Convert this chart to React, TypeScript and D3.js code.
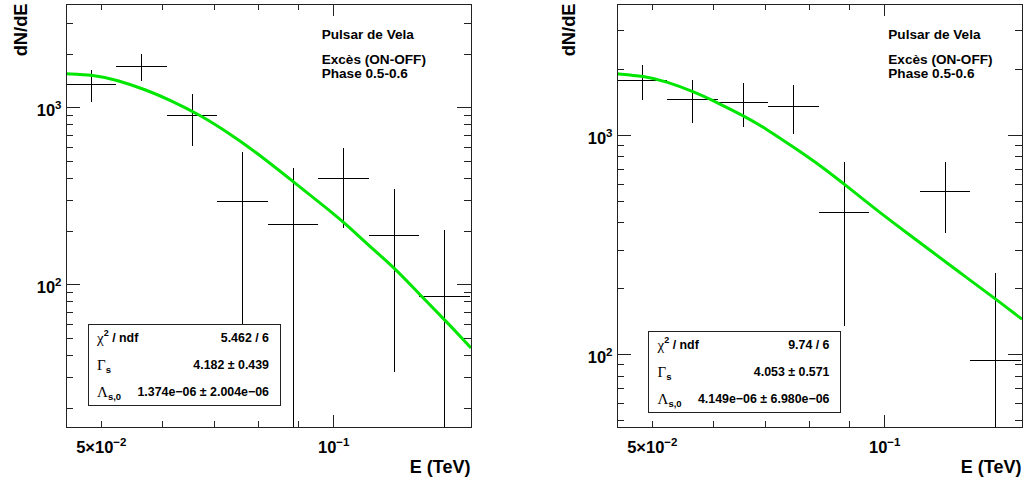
import React from 'react';
import * as d3 from 'd3';

// ---------- data ----------
const binEdges = [0.045, 0.0523, 0.0608, 0.0707, 0.0822, 0.0955, 0.111, 0.1291, 0.15];

const leftValues: (number | null)[] = [1350, 1720, 900, 297, 220, 400, 190, 86];
const leftErrors: (number | null)[] = [275, 300, 295, 267, 238, 190, 158, 118];
const rightValues: (number | null)[] = [1780, 1466, 1420, 1356, 445, null, 558, 94];
const rightErrors: (number | null)[] = [320, 320, 325, 340, 310, null, 198, 142];

const leftCurveE = [0.045, 0.04882, 0.05235, 0.05724, 0.06136, 0.06711, 0.07267, 0.07868, 0.08866, 0.09795, 0.10343, 0.11142, 0.12008, 0.12935, 0.14005, 0.14866, 0.1506];
const leftCurveV = [1555, 1532, 1436, 1260, 1107, 911, 733, 577, 382.5, 270.6, 222.7, 164.3, 124.0, 87.7, 61.9, 46.8, 44.0];
const rightCurveE = [0.045, 0.04873, 0.05224, 0.05657, 0.06094, 0.06597, 0.07003, 0.07659, 0.08295, 0.08892, 0.09824, 0.10634, 0.11514, 0.12717, 0.13976, 0.14911, 0.1506];
const rightCurveV = [1912, 1869, 1761, 1585, 1404, 1219, 1080, 875, 721, 595, 449.8, 364.7, 295.6, 227.4, 178.1, 149.4, 145.6];

const xTicks = [0.05, 0.06, 0.07, 0.08, 0.09, 0.1];
const xMajor = [0.1];
const xLabels = [
  { v: 0.05, base: '5\u00d710', sup: '\u22122' },
  { v: 0.1, base: '10', sup: '\u22121' },
];
const yDecades = [10, 100, 1000, 10000];
const yLabelsLeft = [{ v: 100, sup: '2' }, { v: 1000, sup: '3' }];
const yLabelsRight = [{ v: 100, sup: '2' }, { v: 1000, sup: '3' }];

const statsLeft = { chi: '5.462 / 6', gamma: '4.182 \u00b1 0.439', lambda: '1.374e\u221206 \u00b1 2.004e\u221206' };
const statsRight = { chi: '9.74 / 6', gamma: '4.053 \u00b1 0.571', lambda: '4.149e\u221206 \u00b1 6.980e\u221206' };

const annotations = ['Pulsar de Vela', 'Exc\u00e8s (ON-OFF)', 'Phase 0.5-0.6'];

// ---------- layout ----------
const FONT = '"Liberation Sans", Arial, Helvetica, sans-serif';
const SERIF = '"Liberation Serif", "DejaVu Serif", serif';
const TOP = 4.7;
const BOTTOM = 427.7;

type PanelProps = {
  id: string;
  x0: number;
  x1: number;
  yDomain: [number, number];
  values: (number | null)[];
  errors: (number | null)[];
  curveE: number[];
  curveV: number[];
  yLabels: { v: number; sup: string }[];
  stats: { chi: string; gamma: string; lambda: string };
  box: { x: number; y: number; w: number; h: number };
  annX: number;
  ylabelX: number;
};

function Panel(p: PanelProps) {
  const x = d3.scaleLog().domain([0.045, 0.1506]).range([p.x0, p.x1]);
  const y = d3.scaleLog().domain(p.yDomain).range([BOTTOM, TOP]);
  const [ymin, ymax] = p.yDomain;

  const yMinor: number[] = [];
  yDecades.forEach((d) => {
    for (let k = 2; k <= 9; k++) {
      const v = (d / 10) * k;
      if (v > ymin && v < ymax) yMinor.push(v);
    }
  });
  const yMajor = yDecades.filter((v) => v > ymin && v < ymax);

  const line = d3
    .line<[number, number]>()
    .x((d) => x(d[0]))
    .y((d) => y(d[1]))
    .curve(d3.curveBasis);
  const curvePts: [number, number][] = p.curveE.map((e, i) => [e, p.curveV[i]]);

  const clamp = (v: number) => Math.max(TOP, Math.min(BOTTOM, v));
  const yv = (v: number) => (v <= 0 ? BOTTOM : clamp(y(v)));

  const stroke = '#222';
  const rowH = p.box.h / 3;
  const rows = [p.box.y + rowH * 0.5, p.box.y + rowH * 1.5, p.box.y + rowH * 2.5];
  const tx = p.box.x + 9;
  const rx = p.box.x + p.box.w - 11;

  return (
    <g>
      <defs>
        <clipPath id={`clip-${p.id}`}>
          <rect x={p.x0} y={TOP} width={p.x1 - p.x0} height={BOTTOM - TOP} />
        </clipPath>
      </defs>

      {/* error bars */}
      <g clipPath={`url(#clip-${p.id})`} stroke="#000" strokeWidth={1} shapeRendering="crispEdges">
        {p.values.map((v, i) => {
          if (v == null) return null;
          const e = p.errors[i] as number;
          const xl = x(binEdges[i]);
          const xr = x(binEdges[i + 1]);
          const xc = x(Math.sqrt(binEdges[i] * binEdges[i + 1]));
          return (
            <g key={i}>
              <line x1={xl} x2={xr} y1={y(v)} y2={y(v)} />
              <line x1={xc} x2={xc} y1={yv(v + e)} y2={yv(v - e)} />
            </g>
          );
        })}
      </g>

      {/* fit curve */}
      <g clipPath={`url(#clip-${p.id})`}>
        <path d={line(curvePts) || ''} fill="none" stroke="rgb(0,230,0)" strokeWidth={3} />
      </g>

      {/* frame */}
      <rect
        x={p.x0}
        y={TOP}
        width={p.x1 - p.x0}
        height={BOTTOM - TOP}
        fill="none"
        stroke={stroke}
        strokeWidth={1}
        shapeRendering="crispEdges"
      />

      {/* ticks */}
      <g stroke={stroke} strokeWidth={1} shapeRendering="crispEdges">
        {xTicks.map((t) => {
          const L = xMajor.includes(t) ? 13 : 6.5;
          const L2 = xMajor.includes(t) ? 11 : 5.5;
          return (
            <g key={t}>
              <line x1={x(t)} x2={x(t)} y1={BOTTOM} y2={BOTTOM - L} />
              <line x1={x(t)} x2={x(t)} y1={TOP} y2={TOP + L2} />
            </g>
          );
        })}
        {yMinor.map((t) => (
          <g key={'m' + t}>
            <line x1={p.x0} x2={p.x0 + 7} y1={y(t)} y2={y(t)} />
            <line x1={p.x1} x2={p.x1 - 7.5} y1={y(t)} y2={y(t)} />
          </g>
        ))}
        {yMajor.map((t) => (
          <g key={'M' + t}>
            <line x1={p.x0} x2={p.x0 + 13.5} y1={y(t)} y2={y(t)} />
            <line x1={p.x1} x2={p.x1 - 14} y1={y(t)} y2={y(t)} />
          </g>
        ))}
      </g>

      {/* x tick labels */}
      {xLabels.map((l) => (
        <text key={l.v} x={x(l.v)} y={453.3} textAnchor="middle" fontFamily={FONT} fontWeight="bold" fontSize={16.5}>
          {l.base}
          <tspan dy={-7} fontSize={11.5}>
            {l.sup}
          </tspan>
        </text>
      ))}
      <text x={p.x1 - 0.5} y={473.3} textAnchor="end" fontFamily={FONT} fontWeight="bold" fontSize={18}>
        E (TeV)
      </text>

      {/* y tick labels */}
      {p.yLabels.map((l) => (
        <text key={l.v} x={p.x0 - 4.5} y={y(l.v) + 8.3} textAnchor="end" fontFamily={FONT} fontWeight="bold" fontSize={16.5}>
          10
          <tspan dy={-7} fontSize={11.5}>
            {l.sup}
          </tspan>
        </text>
      ))}
      <text
        transform={`translate(${p.ylabelX},3.5) rotate(-90)`}
        textAnchor="end"
        fontFamily={FONT}
        fontWeight="bold"
        fontSize={18.3}
      >
        dN/dE
      </text>

      {/* annotations */}
      <g fontFamily={FONT} fontWeight="bold" fontSize={13.6}>
        <text x={p.annX} y={38.5}>{annotations[0]}</text>
        <text x={p.annX} y={63.5}>{annotations[1]}</text>
        <text x={p.annX} y={77.5}>{annotations[2]}</text>
      </g>

      {/* stats box */}
      <rect
        x={p.box.x}
        y={p.box.y}
        width={p.box.w}
        height={p.box.h}
        fill="#fff"
        stroke={stroke}
        strokeWidth={1}
        shapeRendering="crispEdges"
      />
      <g fontFamily={FONT} fontWeight="bold" fontSize={12.4} dominantBaseline="central">
        <text x={tx} y={rows[0]}>
          <tspan fontFamily={SERIF} fontWeight="normal" fontSize={15}>{'\u03c7'}</tspan>
          <tspan dy={-5} fontSize={9}>2</tspan>
          <tspan dy={5}>{' / ndf'}</tspan>
        </text>
        <text x={rx} y={rows[0]} textAnchor="end">{p.stats.chi}</text>
        <text x={tx} y={rows[1]}>
          <tspan fontFamily={SERIF} fontWeight="normal" fontSize={15}>{'\u0393'}</tspan>
          <tspan dy={4.5} fontSize={9.5}>s</tspan>
        </text>
        <text x={rx} y={rows[1]} textAnchor="end">{p.stats.gamma}</text>
        <text x={tx} y={rows[2]}>
          <tspan fontFamily={SERIF} fontWeight="normal" fontSize={15}>{'\u039b'}</tspan>
          <tspan dy={4.5} fontSize={9.5}>s,0</tspan>
        </text>
        <text x={rx} y={rows[2]} textAnchor="end">{p.stats.lambda}</text>
      </g>
    </g>
  );
}

export default function App() {
  return (
    <svg
      width={1027}
      height={482}
      viewBox="0 0 1027 482"
      style={{ position: 'absolute', left: 0, top: 0, background: '#fff' }}
    >
      <rect x={0} y={0} width={1027} height={482} fill="#fff" />
      <Panel
        id="L"
        x0={66}
        x1={471}
        yDomain={[15.6, 3820]}
        values={leftValues}
        errors={leftErrors}
        curveE={leftCurveE}
        curveV={leftCurveV}
        yLabels={yLabelsLeft}
        stats={statsLeft}
        box={{ x: 88, y: 324, w: 192, h: 81.5 }}
        annX={321.7}
        ylabelX={27}
      />
      <Panel
        id="R"
        x0={617}
        x1={1022}
        yDomain={[46.6, 3950]}
        values={rightValues}
        errors={rightErrors}
        curveE={rightCurveE}
        curveV={rightCurveV}
        yLabels={yLabelsRight}
        stats={statsRight}
        box={{ x: 648.5, y: 331, w: 192, h: 81.5 }}
        annX={888.3}
        ylabelX={575}
      />
    </svg>
  );
}
